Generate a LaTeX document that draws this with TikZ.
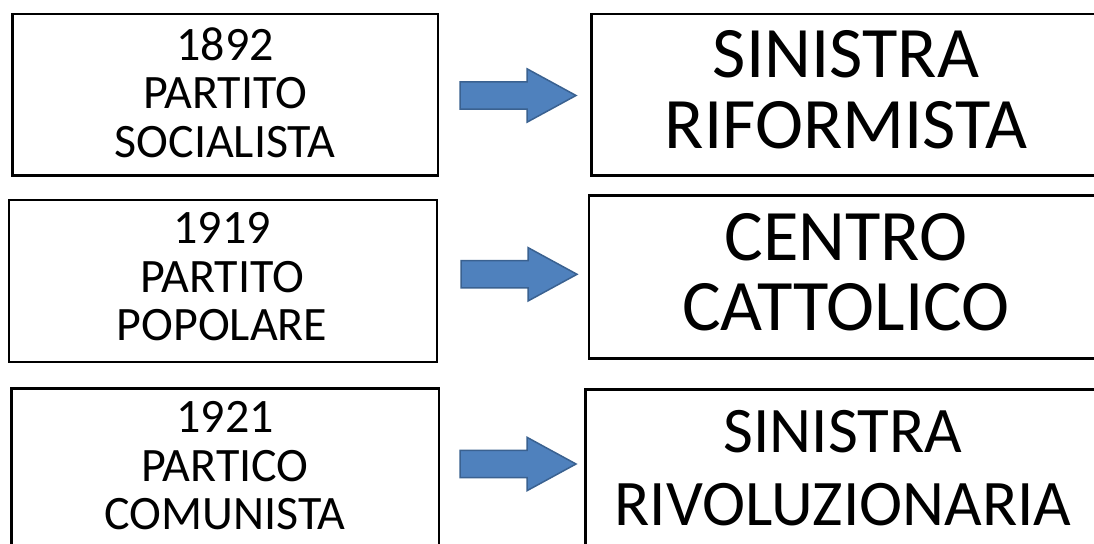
\documentclass[tikz,border=0pt]{standalone}
\usepackage{fontspec}
\setmainfont{Carlito}
\definecolor{arrowfill}{HTML}{4F81BD}
\definecolor{arrowline}{HTML}{3A6190}
\tikzset{
  box/.style={draw=black, line width=2.7pt, rectangle, inner sep=0pt},
  lefttext/.style={anchor=north, align=center, inner sep=0pt, font=\fontsize{48}{48.5}\selectfont},
  righttext/.style={anchor=north, align=center, inner sep=0pt, font=\fontsize{72.5}{70.5}\selectfont},
  barrow/.style={fill=arrowfill, draw=arrowline, line width=1.5pt, line join=miter}
}
\begin{document}
\begin{tikzpicture}[x=1pt,y=-1pt]
\useasboundingbox (0,0) rectangle (1094,543);
\clip (0,0) rectangle (1094,543);
\fill[white] (0,0) rectangle (1094,543);
% left boxes
\node[box, minimum width=425.3pt, minimum height=161.7pt] (l1) at (225.35,94.75) {};
\node[box, minimum width=428pt, minimum height=162pt] (l2) at (223,281) {};
\node[box, minimum width=427.3pt, minimum height=171.5pt] (l3) at (225.35,474.25) {};
% right boxes
\node[box, minimum width=508.3pt, minimum height=161.7pt] (r1) at (845.85,94.75) {};
\node[box, minimum width=511pt, minimum height=162.8pt] (r2) at (844.5,277) {};
\node[box, minimum width=514.3pt, minimum height=170.5pt] (r3) at (842.85,474.75) {};
% texts
\node[lefttext] (t1) at (225,27.2) {1892\\PARTITO\\SOCIALISTA};
\node[lefttext] (t2) at (222,212.5) {1919\\PARTITO\\POPOLARE};
\node[lefttext] (t3) at (225,401.5) {1921\\PARTICO\\COMUNISTA};
\node[righttext] (s1) at (846,30.5) {SINISTRA\\RIFORMISTA};
\node[righttext] (s2) at (846,213) {CENTRO\\CATTOLICO};
\node[righttext, font=\fontsize{65}{73}\selectfont] (s3) at (843,410) {SINISTRA\\RIVOLUZIONARIA};
% arrows
\coordinate (a1) at (460,95.5);
\coordinate (a2) at (461,274.3);
\coordinate (a3) at (460,464);
\foreach \a in {a1,a2,a3}{
  \draw[barrow] (\a) +(0,-13.6) -- +(67,-13.6) -- +(67,-26.7) -- +(116,0) -- +(67,26.7) -- +(67,13.6) -- +(0,13.6) -- cycle;
}
\end{tikzpicture}
\end{document}
